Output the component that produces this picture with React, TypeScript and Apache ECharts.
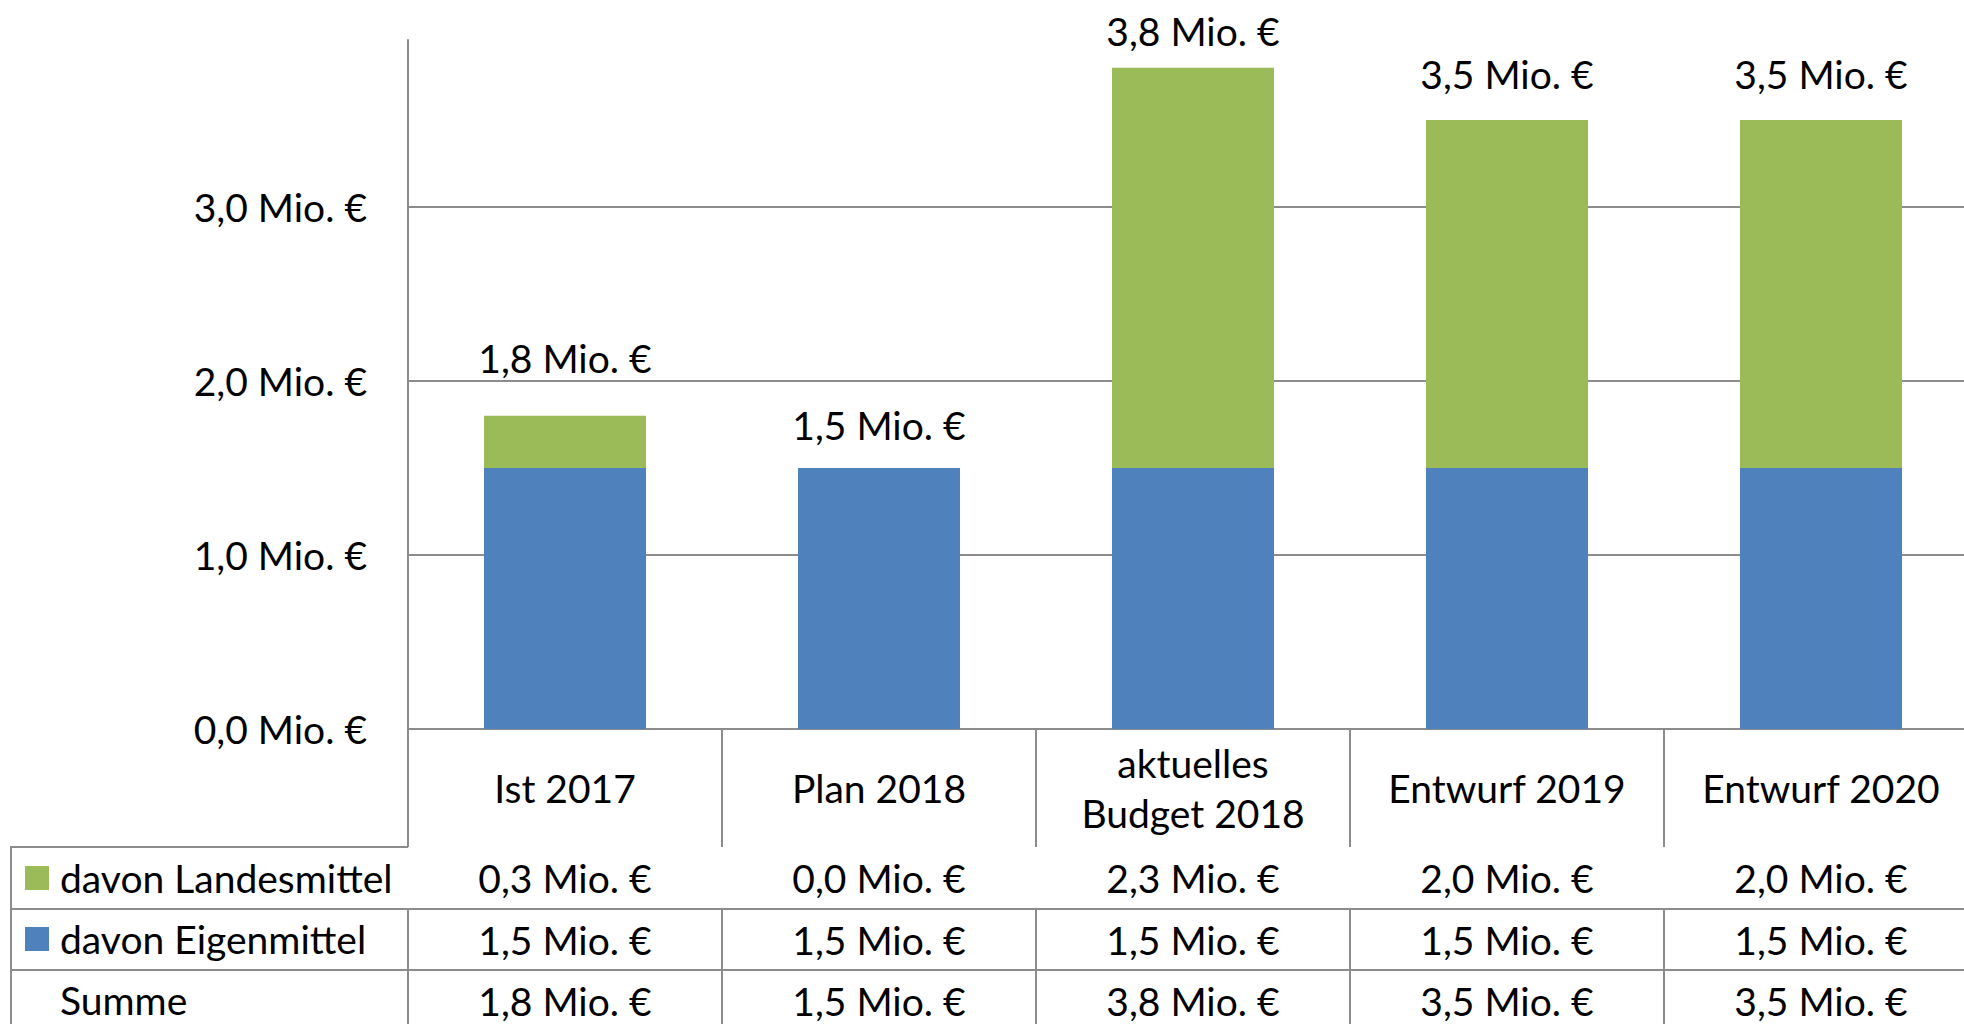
import React, { useEffect, useRef } from 'react';
import * as echarts from 'echarts';

// ---- data ----
const categories = ['Ist 2017', 'Plan 2018', 'aktuelles\nBudget 2018', 'Entwurf 2019', 'Entwurf 2020'];
const landesmittel = [0.3, 0.0, 2.3, 2.0, 2.0];
const eigenmittel = [1.5, 1.5, 1.5, 1.5, 1.5];
const summe = [1.8, 1.5, 3.8, 3.5, 3.5];
const seriesNames = ['davon Landesmittel', 'davon Eigenmittel', 'Summe'];
const yMin = 0;
const yMax = 3.96;
const yInterval = 1;

// ---- styles ----
const FONT = 'Lato';
const FS = 39;
const LINE = '#8c8c8c';
const GREEN = '#9BBB59';
const BLUE = '#4F81BD';
const totalLabelDistance = [37, 23, 16, 26, 26];
const rowOffsets = [118, 180, 241];
const rowHeight = 62;
const legendRowCenters = [878, 939, 1000];

const fmt = (v: number) => v.toFixed(1).replace('.', ',') + ' Mio. €';

const rowAxis = (values: number[], offset: number) => ({
  type: 'category',
  gridIndex: 0,
  position: 'bottom',
  offset,
  data: values.map(fmt),
  axisLine: { show: true, lineStyle: { color: LINE, width: 2 } },
  axisTick: { show: true, length: rowHeight, lineStyle: { color: LINE, width: 2 } },
  axisLabel: {
    interval: 0,
    fontFamily: FONT,
    fontSize: FS,
    color: '#000',
    margin: 31,
    verticalAlign: 'middle',
  },
  splitLine: { show: false },
});

export default function App() {
  const ref = useRef<HTMLDivElement>(null);
  useEffect(() => {
    if (!ref.current) return;
    const chart = echarts.init(ref.current, null, { renderer: 'svg' });
    const rows = [landesmittel, eigenmittel, summe];
    chart.setOption({
      animation: false,
      backgroundColor: '#fff',
      grid: {
        left: 408,
        top: 40,
        width: 1570,
        height: 689,
        containLabel: false,
        outerBoundsMode: 'none',
      },
      legend: seriesNames.map((name, i) => ({
        data: [i === 2 ? { name, itemStyle: { opacity: 0 } } : name],
        left: 25,
        top: legendRowCenters[i] - 20,
        orient: 'vertical',
        itemWidth: 24,
        itemHeight: 24,
        padding: 0,
        icon: 'rect',
        selectedMode: false,
        textStyle: { fontFamily: FONT, fontSize: FS, lineHeight: 40, color: '#000', padding: [0, 0, 0, 6] },
      })),
      xAxis: [
        {
          type: 'category',
          gridIndex: 0,
          position: 'bottom',
          data: categories,
          axisLine: { show: true, onZero: false, lineStyle: { color: LINE, width: 2 } },
          axisTick: { show: true, length: rowOffsets[0], lineStyle: { color: LINE, width: 2 } },
          axisLabel: {
            interval: 0,
            fontFamily: FONT,
            fontSize: FS,
            lineHeight: 50,
            color: '#000',
            margin: 59,
            verticalAlign: 'middle',
            align: 'center',
          },
          splitLine: { show: false },
        },
        ...rows.map((r, i) => rowAxis(r, rowOffsets[i])),
      ],
      yAxis: {
        type: 'value',
        min: yMin,
        max: yMax,
        interval: yInterval,
        axisLine: { show: true, lineStyle: { color: LINE, width: 2 } },
        axisTick: { show: false },
        splitLine: { show: true, showMaxLine: false, lineStyle: { color: LINE, width: 2 } },
        axisLabel: {
          showMaxLabel: false,
          formatter: (v: number) => fmt(v),
          fontFamily: FONT,
          fontSize: FS,
          color: '#000',
          margin: 41,
        },
      },
      graphic: [
        { type: 'line', shape: { x1: 11, y1: 847, x2: 11, y2: 1030 }, style: { stroke: LINE, lineWidth: 2 } },
        { type: 'line', shape: { x1: 10, y1: 847, x2: 408, y2: 847 }, style: { stroke: LINE, lineWidth: 2 } },
        { type: 'line', shape: { x1: 10, y1: 909, x2: 408, y2: 909 }, style: { stroke: LINE, lineWidth: 2 } },
        { type: 'line', shape: { x1: 10, y1: 970, x2: 408, y2: 970 }, style: { stroke: LINE, lineWidth: 2 } },
      ],
      series: [
        {
          name: seriesNames[1],
          type: 'bar',
          stack: 'total',
          data: eigenmittel,
          barWidth: 162,
          itemStyle: { color: BLUE },
        },
        {
          name: seriesNames[0],
          type: 'bar',
          stack: 'total',
          data: landesmittel,
          barWidth: 162,
          itemStyle: { color: GREEN },
        },
        {
          name: seriesNames[2],
          type: 'scatter',
          data: summe.map((v, i) => ({ value: v, label: { distance: totalLabelDistance[i] } })),
          symbolSize: 1,
          itemStyle: { color: 'transparent' },
          label: {
            show: true,
            position: 'top',
            formatter: (p: any) => fmt(p.value),
            fontFamily: FONT,
            fontSize: FS,
            lineHeight: 40,
            color: '#000',
            opacity: 1,
          },
          z: 5,
        },
      ],
    });
    return () => chart.dispose();
  }, []);
  return (
    <div
      ref={ref}
      style={{ position: 'fixed', left: 0, top: 0, width: 1964, height: 1024, background: '#fff' }}
    />
  );
}
